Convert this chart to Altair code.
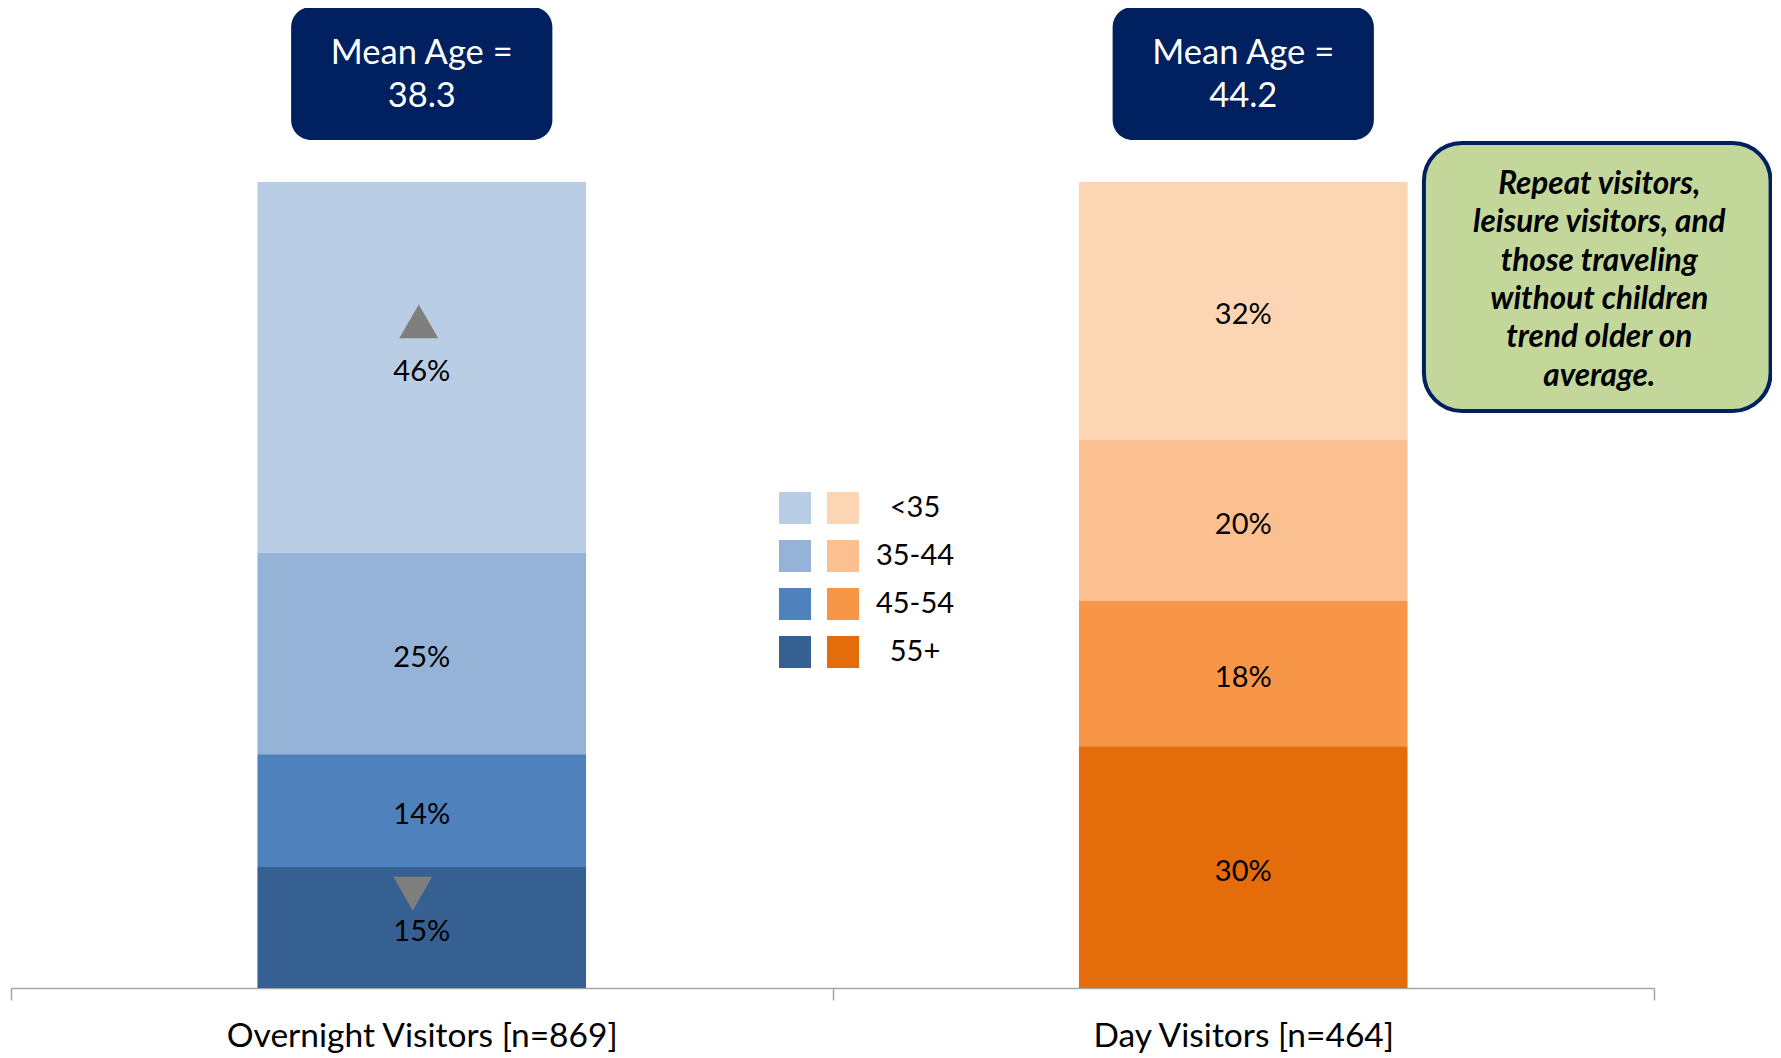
import altair as alt
import pandas as pd

visitors = ["Overnight Visitors [n=869]", "Day Visitors [n=464]"]
age_groups = ["<35", "35-44", "45-54", "55+"]
overnight_pct = [46, 25, 14, 15]
day_pct = [32, 20, 18, 30]
overnight_trend = ["up", "", "", "down"]
day_trend = ["", "", "", ""]
mean_ages = [38.3, 44.2]
blue_colors = ["#b9cde5", "#95b3d7", "#4f81bd", "#366092"]
orange_colors = ["#fcd5b5", "#fac090", "#f79646", "#e46c0a"]
note_lines = ["Repeat visitors,", "leisure visitors, and", "those traveling",
              "without children", "trend older on", "average."]

rows = []
for v, pcts, trends in zip(visitors, [overnight_pct, day_pct], [overnight_trend, day_trend]):
    for i, (a, p, t) in enumerate(zip(age_groups, pcts, trends)):
        rows.append({"visitor": v, "age": a, "pct": p, "rank": i, "trend": t})
df = pd.DataFrame(rows)

df_mean = pd.DataFrame({"visitor": visitors,
                        "label": ["Mean Age =\n" + f"{m:.1f}" for m in mean_ages]})
df_note = pd.DataFrame({"visitor": [visitors[1]], "note": ["\n".join(note_lines)]})

FONT = "Lato"
xenc = alt.X("visitor:N", sort=visitors,
             scale=alt.Scale(paddingInner=0, paddingOuter=0),
             axis=alt.Axis(title=None, labelAngle=0, labelFont=FONT, labelFontSize=33.5,
                           labelColor="black", labelPadding=20, labelLimit=0,
                           tickBand="extent",
                           tickSize=12, tickColor="#a6a6a6", tickWidth=1.5,
                           domainColor="#a6a6a6", domainWidth=1.5, grid=False))
yscale = alt.Scale(domain=[0, 100])

base = alt.Chart(df).transform_stack(
    stack="pct", groupby=["visitor"], as_=["y0", "y1"],
    sort=[alt.SortField("rank", order="descending")]
).transform_calculate(
    mid="(datum.y0 + datum.y1) / 2",
    label="datum.pct + '%'"
)

def legend(x, show_labels):
    kw = dict(title=None, orient="none", legendX=x, legendY=310, symbolType="square",
              symbolSize=1024, symbolStrokeWidth=0, symbolOpacity=1, rowPadding=16,
              direction="vertical", labelFont=FONT, labelFontSize=29, labelColor="black")
    if show_labels:
        kw.update(labelAlign="center", labelOffset=56)
    else:
        kw.update(labelExpr="''", labelOpacity=0)
    return alt.Legend(**kw)

over_bars = base.transform_filter(alt.datum.visitor == visitors[0]).mark_bar(
    width=alt.RelativeBandSize(0.4)
).encode(
    x=xenc,
    y=alt.Y("y0:Q", scale=yscale, axis=None),
    y2="y1:Q",
    color=alt.Color("age:N", scale=alt.Scale(domain=age_groups, range=blue_colors),
                    legend=legend(768, False)),
)

day_bars = base.transform_filter(alt.datum.visitor == visitors[1]).mark_bar(
    width=alt.RelativeBandSize(0.4)
).encode(
    x=xenc,
    y=alt.Y("y0:Q", scale=yscale, axis=None),
    y2="y1:Q",
    color=alt.Color("age:N", scale=alt.Scale(domain=age_groups, range=orange_colors),
                    legend=legend(816, True)),
)

pct_text = base.mark_text(font=FONT, fontSize=29, color="black", baseline="middle",
                          dy=4.5).encode(
    x=xenc, y=alt.Y("mid:Q", scale=yscale), text="label:N"
)

tri_up = base.transform_filter(alt.datum.trend == "up").mark_point(
    shape="triangle-up", filled=True, size=1521, color="#7f7f7f", opacity=1,
    strokeWidth=0, xOffset=-3, yOffset=-46
).encode(x=xenc, y=alt.Y("mid:Q", scale=yscale))

tri_down = base.transform_filter(alt.datum.trend == "down").mark_point(
    shape="triangle-down", filled=True, size=1521, color="#7f7f7f", opacity=1,
    strokeWidth=0, xOffset=-9, yOffset=-34
).encode(x=xenc, y=alt.Y("mid:Q", scale=yscale))

mean_box = alt.Chart(df_mean).mark_bar(
    width=alt.RelativeBandSize(0.318), cornerRadius=20, color="#002060",
    yOffset=-175, y2Offset=-42
).encode(x=xenc, y=alt.datum(100), y2=alt.datum(100))

mean_text = alt.Chart(df_mean).mark_text(
    font=FONT, fontSize=34.5, color="white", lineBreak="\n", lineHeight=43,
    baseline="middle", yOffset=-128
).encode(x=xenc, y=alt.datum(100), text="label:N")

note_box = alt.Chart(df_note).mark_bar(
    width=alt.RelativeBandSize(0.422), xOffset=354, cornerRadius=38,
    fill="#c4d79b", stroke="#002060", strokeWidth=4, yOffset=-39, y2Offset=229
).encode(x=xenc, y=alt.datum(100), y2=alt.datum(100))

note_text = alt.Chart(df_note).mark_text(
    font=FONT, fontSize=31.5, fontStyle="italic", fontWeight="bold", color="black",
    lineBreak="\n", lineHeight=38.3, baseline="middle", xOffset=356, yOffset=3
).encode(x=xenc, y=alt.datum(100), text="note:N")

chart = alt.layer(
    over_bars, day_bars, pct_text, tri_up, tri_down,
    mean_box, mean_text, note_box, note_text
).resolve_scale(color="independent").properties(
    width=1643, height=806,
    autosize=alt.AutoSizeParams(type="none"),
    padding={"left": 3, "top": 174, "right": 118, "bottom": 66},
).configure_view(stroke=None)

chart.save("out.html", embed_options={"renderer": "svg", "actions": False})
